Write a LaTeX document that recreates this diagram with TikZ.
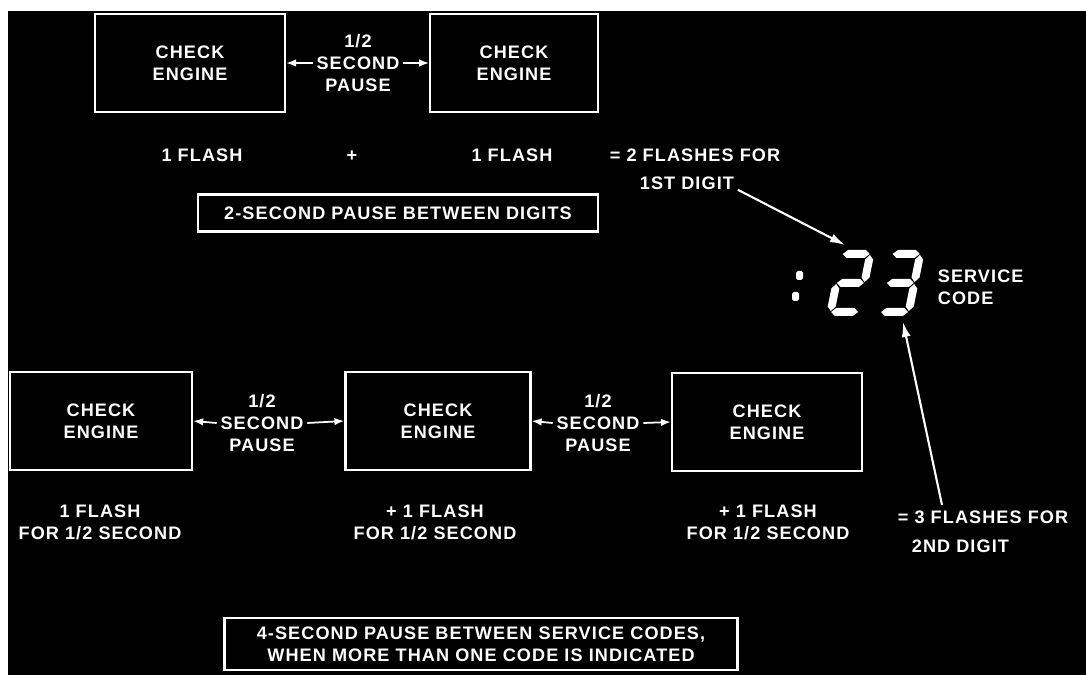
\documentclass[tikz,border=0pt]{standalone}
\usepackage{fontspec}
\setmainfont{Liberation Sans}
\usetikzlibrary{arrows.meta, positioning, calc}
\newfontfamily\plate[LetterSpace=6]{Liberation Sans}
\tikzset{
	box/.style={
		draw=white,
		line width=1.3pt,
		minimum width=3.7cm,
		minimum height=1.96cm,
		align=center,
		text=white,
		font=\plate\bfseries\fontsize{10.3}{12.4}\selectfont
	},
	lbl/.style={
		text=white,
		align=center,
		inner xsep=2pt,
		inner ysep=0pt,
		font=\plate\bfseries\fontsize{10.3}{12.4}\selectfont
	},
	arrow/.style={
		-{Latex[length=2mm, width=1.5mm]},
		white,
		line width=1pt
	},
	digitarrow/.style={
		-{Latex[length=3mm, width=1.8mm]},
		white,
		line width=1.2pt
	}
}
% seven segment pieces
\newcommand{\hseg}[2]{\fill[white] ({#1-13.5},#2) -- ++(4.5,-4) -- ++(18,0) -- ++(4.5,4) -- ++(-4.5,4) -- ++(-18,0) -- cycle;}
\newcommand{\vseg}[2]{\fill[white] (#1,{#2-13.5}) -- ++(4,4.5) -- ++(0,18) -- ++(-4,4.5) -- ++(-4,-4.5) -- ++(0,-18) -- cycle;}

\begin{document}
\begin{tikzpicture}[x=0.02cm, y=-0.02cm]
	
	% Background
	\fill[white] (0,0) rectangle (1086,675);
	\fill[black] (8,11) rectangle (1086,675);
	
	% First digit
	\node[box, minimum width=3.8cm] (CE1) at (190,63) {CHECK\\ENGINE};
	\node[box, minimum width=3.35cm] (CE2) at (514,63) {CHECK\\ENGINE};
	\node[lbl] (P1) at (358,63) {1/2\\SECOND\\PAUSE};
	\draw[arrow] (P1.west) -- (CE1.east);
	\draw[arrow] (P1.east) -- (CE2.west);
	
	\node[lbl] (F1) at (202,155) {1 FLASH};
	\node[lbl] (PL1) at (352,156) {+};
	\node[lbl] (F2) at (512,155) {1 FLASH};
	\node[lbl, anchor=west] (EQ1) at (606,155) {= 2 FLASHES FOR};
	\node[lbl, anchor=west] (D1) at (636,183) {1ST DIGIT};
	
	\node[box, minimum width=8cm, minimum height=0.74cm] (PD) at (398,213) {2-SECOND PAUSE BETWEEN DIGITS};
	
	% Service code display
	\fill[white, rounded corners=1pt] (796,271) rectangle (803,280);
	\fill[white, rounded corners=1pt] (792,292) rectangle (799,301);
	\begin{scope}[shift={(840,250)}, xslant=0.2]
		\hseg{17}{4} \vseg{31}{18.5} \hseg{17}{33} \vseg{3}{47.5} \hseg{17}{62}
	\end{scope}
	\begin{scope}[shift={(890,250)}, xslant=0.2]
		\hseg{17}{4} \vseg{31}{18.5} \hseg{17}{33} \vseg{31}{47.5} \hseg{17}{62}
	\end{scope}
	\coordinate (TWO) at (845,245);
	\coordinate (THREE) at (903,322);
	\node[lbl, anchor=west, align=left] (SC) at (934,287) {SERVICE\\CODE};
	
	% Second digit
	\node[box, minimum width=3.64cm] (CA) at (101,421) {CHECK\\ENGINE};
	\node[box] (CB) at (438,421) {CHECK\\ENGINE};
	\node[box, minimum width=3.8cm] (CC) at (767,422) {CHECK\\ENGINE};
	\node[lbl] (P2) at (262,423) {1/2\\SECOND\\PAUSE};
	\node[lbl] (P3) at (598,423) {1/2\\SECOND\\PAUSE};
	\draw[arrow] (P2.west) -- (CA.east);
	\draw[arrow] (P2.east) -- (CB.west);
	\draw[arrow] (P3.west) -- (CB.east);
	\draw[arrow] (P3.east) -- (CC.west);
	
	\node[lbl] (T1) at (100,522) {1 FLASH\\FOR 1/2 SECOND};
	\node[lbl] (T2) at (435,522) {+ 1 FLASH\\FOR 1/2 SECOND};
	\node[lbl] (T3) at (768,522) {+ 1 FLASH\\FOR 1/2 SECOND};
	\node[lbl, anchor=west] (EQ2) at (894,517) {= 3 FLASHES FOR};
	\node[lbl, anchor=west] (D2) at (908,546) {2ND DIGIT};
	\coordinate (E2) at (942,505);
	
	% Pointers to the code
	\draw[digitarrow] (D1.south east) -- (TWO);
	\draw[digitarrow] (E2) -- (THREE);
	
	% Pause between codes
	\node[box, minimum width=10.26cm, minimum height=1.04cm] (PC) at (481,644) {4-SECOND PAUSE BETWEEN SERVICE CODES,\\WHEN MORE THAN ONE CODE IS INDICATED};
	
\end{tikzpicture}
\end{document}
